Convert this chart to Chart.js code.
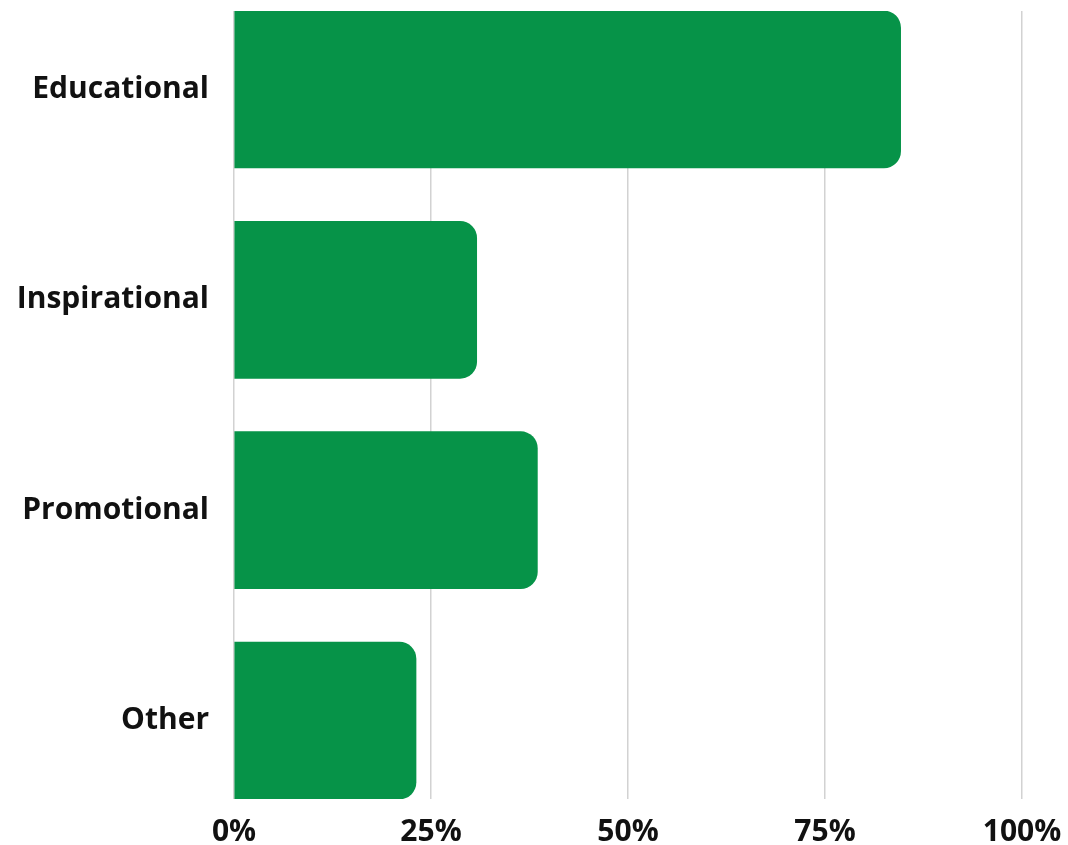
<!DOCTYPE html>
<html>
<head>
<meta charset="utf-8">
<script src="https://cdn.jsdelivr.net/npm/chart.js@4/dist/chart.umd.min.js"></script>
<style>
  html, body { margin: 0; padding: 0; background: #fff; }
  #wrap { width: 1068px; height: 845px; }
</style>
</head>
<body>
<div id="wrap"><canvas id="typeChart"></canvas></div>
<script>
const categories = ["Educational", "Inspirational", "Promotional", "Other"];
const shares = [84.6, 30.8, 38.5, 23.1];
const xTicks = [0, 25, 50, 75, 100];

const green = "#069348";
const font = { family: "'Open Sans', sans-serif", size: 30, weight: "700" };

const cnv = document.getElementById("typeChart");
const ctx = cnv.getContext("2d");

// bars sit on a numeric index axis so the first and last bars touch the plot edges
const pad = 0.373;

const typeChart = new Chart(ctx, {
    type: "bar",
    data: {
        datasets: [{
            data: categories.map((c, i) => ({ x: shares[i], y: i })),
            backgroundColor: green,
            borderRadius: 17,
            borderSkipped: "start",
            barThickness: 157
        }]
    },
    options: {
        indexAxis: "y",
        responsive: true,
        maintainAspectRatio: false,
        animation: false,
        layout: { padding: { top: 11, right: 46, bottom: 0, left: 0 } },
        plugins: { legend: { display: false }, tooltip: { enabled: false } },
        scales: {
            x: {
                type: "linear",
                min: 0,
                max: 100,
                afterBuildTicks: s => { s.ticks = xTicks.map(v => ({ value: v })); },
                afterFit: s => { s.height = 46; s.paddingLeft = 0; s.paddingRight = 0; },
                grid: { color: "#d2d2d2", lineWidth: 1.5, drawTicks: false },
                border: { display: false },
                ticks: {
                    font: font,
                    color: "#111",
                    padding: 15,
                    maxRotation: 0,
                    callback: v => v + "%"
                }
            },
            y: {
                type: "linear",
                reverse: true,
                offset: false,
                min: -pad,
                max: categories.length - 1 + pad,
                afterBuildTicks: s => { s.ticks = categories.map((c, i) => ({ value: i })); },
                afterFit: s => { s.width = 234; s.paddingTop = 0; s.paddingBottom = 0; },
                grid: { display: false, drawTicks: false },
                border: { display: false },
                ticks: {
                    font: font,
                    color: "#111",
                    padding: 25,
                    callback: v => categories[v]
                }
            }
        }
    }
});
</script>
</body>
</html>
